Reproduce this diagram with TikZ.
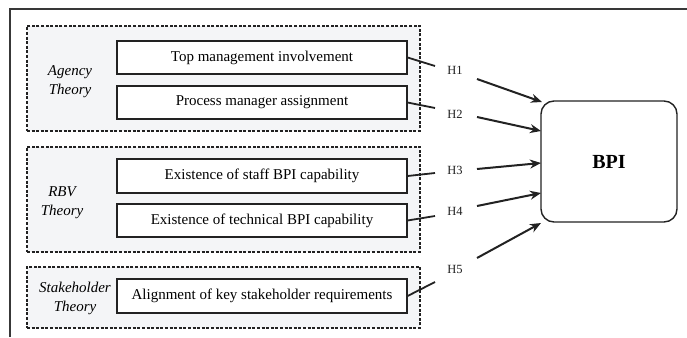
\documentclass[tikz,border=0pt]{standalone}
\usepackage{fontspec}
\setmainfont{Liberation Serif}
\usetikzlibrary{arrows.meta}
\definecolor{groupfill}{HTML}{F4F5F7}
\definecolor{ink}{HTML}{222222}
\begin{document}
\begin{tikzpicture}[x=1pt,y=-1pt,
  group/.style={draw=ink,line width=1.3pt,dash pattern=on 3pt off 1.6pt,fill=groupfill,
    rectangle,minimum width=393pt,inner sep=0pt},
  factor/.style={draw=ink,line width=1.2pt,fill=white,rectangle,minimum width=290pt,
    inner sep=0pt,font=\fontsize{15}{18}\selectfont},
  theory/.style={align=center,font=\fontsize{15}{19}\selectfont\itshape,inner sep=0pt},
  hyp/.style={font=\fontsize{12.5}{14}\selectfont,inner sep=0pt,text=ink},
  link/.style={draw=ink,line width=1.8pt},
  arr/.style={draw=ink,line width=2pt,-{Stealth[length=11pt,width=9pt]}}]
\useasboundingbox (0,0) rectangle (687,337);
% frame
\draw[line width=1.4pt,draw=ink!90] (10,337) -- (10,9) -- (687,9);
% groups
\node[group,minimum height=105pt] (gA) at (223.5,78.5) {};
\node[group,minimum height=105pt] (gR) at (223.5,199.5) {};
\node[group,minimum height=61pt] (gS) at (223.5,297.5) {};
% theory labels
\node[theory] (tA) at (70,82) {Agency\\Theory};
\node[theory] (tR) at (62,203) {RBV\\Theory};
\node[theory] (tS) at (75,298) {Stakeholder\\Theory};
% factors
\node[factor,minimum height=33pt] (f1) at (262,57.5) {Top management involvement};
\node[factor,minimum height=33pt] (f2) at (262,102.5) {Process manager assignment};
\node[factor,minimum height=34pt] (f3) at (262,176) {Existence of staff BPI capability};
\node[factor,minimum height=33pt] (f4) at (262,220.5) {Existence of technical BPI capability};
\node[factor,minimum height=34pt] (f5) at (262,296) {Alignment of key stakeholder requirements};
% BPI
\node[draw=ink,line width=1.4pt,rounded corners=13pt,minimum width=136pt,minimum height=121pt,
  inner sep=0pt,font=\fontsize{20}{24}\selectfont\bfseries] (bpi) at (609,161.5) {BPI};
% hypothesis labels
\node[hyp] (h1) at (455,70) {H1};
\node[hyp] (h2) at (455,114) {H2};
\node[hyp] (h3) at (455,170) {H3};
\node[hyp] (h4) at (455,211) {H4};
\node[hyp] (h5) at (455,269) {H5};
% connector end points
\coordinate (e1) at (435,66);
\coordinate (e2) at (435,108);
\coordinate (e3) at (435,173);
\coordinate (e4) at (435,216);
\coordinate (e5) at (435,282);
\coordinate (s1) at (477,79);
\coordinate (s2) at (477,117);
\coordinate (s3) at (477,169);
\coordinate (s4) at (477,206);
\coordinate (s5) at (477,258);
\coordinate (t1) at (542,102);
\coordinate (t2) at (541,131);
\coordinate (t3) at (541,163);
\coordinate (t4) at (541,193);
\coordinate (t5) at (541,223);
\draw[link] (f1.east) -- (e1);
\draw[link] (f2.east) -- (e2);
\draw[link] (f3.east) -- (e3);
\draw[link] (f4.east) -- (e4);
\draw[link] (f5.east) -- (e5);
\draw[arr] (s1) -- (t1);
\draw[arr] (s2) -- (t2);
\draw[arr] (s3) -- (t3);
\draw[arr] (s4) -- (t4);
\draw[arr] (s5) -- (t5);
\end{tikzpicture}
\end{document}
